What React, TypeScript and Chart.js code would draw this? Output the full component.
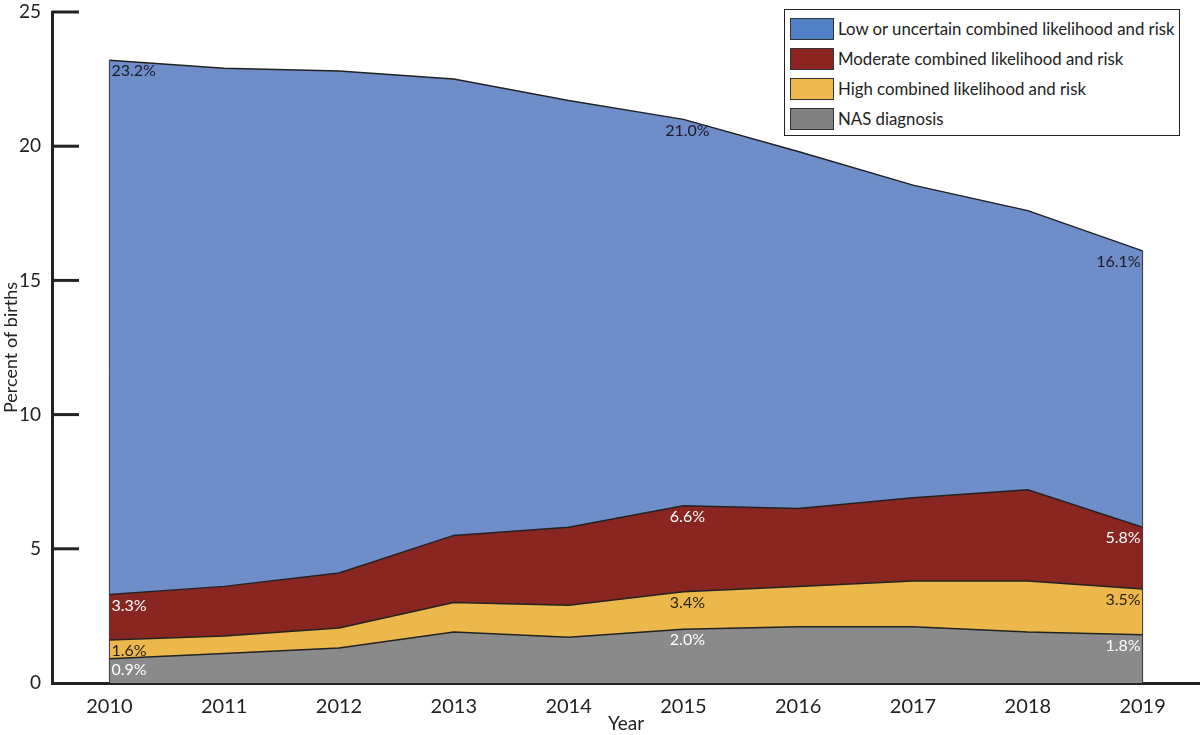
import React, { useEffect, useRef } from "react";
import { Chart, registerables } from "chart.js";

Chart.register(...registerables);

const years = ["2010", "2011", "2012", "2013", "2014", "2015", "2016", "2017", "2018", "2019"];
// cumulative tops (percent of births)
const nasTop = [0.9, 1.1, 1.3, 1.9, 1.7, 2.0, 2.1, 2.1, 1.9, 1.8];
const highTop = [1.6, 1.75, 2.05, 3.0, 2.9, 3.4, 3.6, 3.8, 3.8, 3.5];
const moderateTop = [3.3, 3.6, 4.1, 5.5, 5.8, 6.6, 6.5, 6.9, 7.2, 5.8];
const lowTop = [23.2, 22.9, 22.8, 22.5, 21.7, 21.0, 19.8, 18.55, 17.6, 16.1];
const yTicks = [0, 5, 10, 15, 20, 25];
const labelIndices = [0, 5, 9];

const seriesNames = [
  "Low or uncertain combined likelihood and risk",
  "Moderate combined likelihood and risk",
  "High combined likelihood and risk",
  "NAS diagnosis",
];
const areaColors = ["#6f8dc8", "#8a2621", "#ecb84c", "#8a8a8a"];
const legendColors = ["#5080c6", "#8b2320", "#edb84e", "#808080"];
const labelColors = ["#1c1c28", "#ffffff", "#2a2212", "#ffffff"];

const FONT = "Lato, 'Open Sans', sans-serif";

export default function App() {
  const ref = useRef<HTMLCanvasElement | null>(null);

  useEffect(() => {
    document.body.style.margin = "0";
    const canvas = ref.current;
    if (!canvas) return;

    const tops = [lowTop, moderateTop, highTop, nasTop];

    const overlay = {
      id: "overlay",
      afterDatasetsDraw(chart: any) {
        const { ctx, scales } = chart;
        const xs = scales.x;
        const ys = scales.y;
        ctx.save();
        ctx.strokeStyle = "#333";
        ctx.lineWidth = 1;
        const n = years.length;
        [0, n - 1].forEach((i) => {
          const x = xs.getPixelForValue(i);
          ctx.beginPath();
          ctx.moveTo(x, ys.getPixelForValue(0));
          ctx.lineTo(x, ys.getPixelForValue(lowTop[i]));
          ctx.stroke();
        });
        ctx.font = `16px ${FONT}`;
        ctx.textBaseline = "middle";
        tops.forEach((arr, s) => {
          ctx.fillStyle = labelColors[s];
          labelIndices.forEach((i) => {
            const x = xs.getPixelForValue(i);
            const y = ys.getPixelForValue(arr[i]) + 11;
            const txt = arr[i].toFixed(1) + "%";
            if (i === 0) {
              ctx.textAlign = "left";
              ctx.fillText(txt, x + 2, y);
            } else if (i === n - 1) {
              ctx.textAlign = "right";
              ctx.fillText(txt, x - 2, y);
            } else {
              ctx.textAlign = "center";
              ctx.fillText(txt, x + 4, y);
            }
          });
        });
        ctx.restore();
      },
      afterDraw(chart: any) {
        const { ctx, chartArea, scales } = chart;
        const ys = scales.y;
        ctx.save();
        ctx.strokeStyle = "#222";
        ctx.lineWidth = 3;
        yTicks.forEach((v) => {
          if (v === 0) return;
          const y = ys.getPixelForValue(v);
          ctx.beginPath();
          ctx.moveTo(chartArea.left, y);
          ctx.lineTo(chartArea.left + 27, y);
          ctx.stroke();
        });
        ctx.restore();
      },
    };

    const mk = (data: number[], idx: number, fill: any) => ({
      label: seriesNames[idx],
      data,
      backgroundColor: areaColors[idx],
      borderColor: "#222",
      borderWidth: 1.5,
      pointRadius: 0,
      tension: 0,
      fill,
    });

    const chart = new Chart(canvas, {
      type: "line",
      data: {
        labels: years,
        datasets: [
          mk(nasTop, 3, "origin"),
          mk(highTop, 2, "-1"),
          mk(moderateTop, 1, "-1"),
          mk(lowTop, 0, "-1"),
        ],
      },
      options: {
        responsive: false,
        animation: false,
        layout: { padding: { top: 12, right: 0, bottom: 0, left: 0 } },
        plugins: {
          legend: { display: false },
          tooltip: { enabled: false },
        },
        scales: {
          x: {
            type: "category",
            offset: true,
            grid: { display: true, drawOnChartArea: false, drawTicks: false, color: "transparent" },
            border: { display: true, color: "#222", width: 3 },
            ticks: { color: "#222", padding: 12, font: { family: FONT, size: 20 } },
            title: {
              display: true,
              text: "Year",
              color: "#222",
              padding: { top: 0, bottom: 0 },
              font: { family: FONT, size: 19 },
            },
            afterFit: (s: any) => {
              s.height = 52;
              s.paddingLeft = 0;
              s.paddingRight = 0;
            },
          },
          y: {
            min: 0,
            max: 25,
            afterBuildTicks: (s: any) => {
              s.ticks = yTicks.map((v) => ({ value: v }));
            },
            grid: { display: true, drawOnChartArea: false, drawTicks: false, color: "transparent" },
            border: { display: true, color: "#222", width: 3 },
            ticks: { color: "#222", padding: 11, font: { family: FONT, size: 19 } },
            title: {
              display: true,
              text: "Percent of births",
              color: "#222",
              padding: { top: 0, bottom: 0 },
              font: { family: FONT, size: 18 },
            },
            afterFit: (s: any) => {
              s.width = 52;
              s.paddingTop = 0;
              s.paddingBottom = 0;
            },
          },
        },
      },
      plugins: [overlay],
    });
    return () => chart.destroy();
  }, []);

  return (
    <div style={{ position: "relative", width: 1200, height: 735, background: "#fff" }}>
      <canvas ref={ref} width={1200} height={735} />
      <div
        style={{
          position: "absolute",
          left: 784,
          top: 9,
          width: 394,
          height: 125,
          border: "1.5px solid #222",
          background: "#fff",
          fontFamily: FONT,
          fontSize: 16.8,
          color: "#222",
        }}
      >
        {seriesNames.map((name, i) => (
          <div
            key={name}
            style={{ position: "absolute", left: 5, top: 8 + i * 30, height: 21, display: "flex", alignItems: "center" }}
          >
            <div
              style={{
                width: 42,
                height: 20,
                background: legendColors[i],
                border: "1px solid #333",
                marginRight: 4,
                flex: "none",
              }}
            />
            <span style={{ whiteSpace: "nowrap" }}>{name}</span>
          </div>
        ))}
      </div>
    </div>
  );
}
